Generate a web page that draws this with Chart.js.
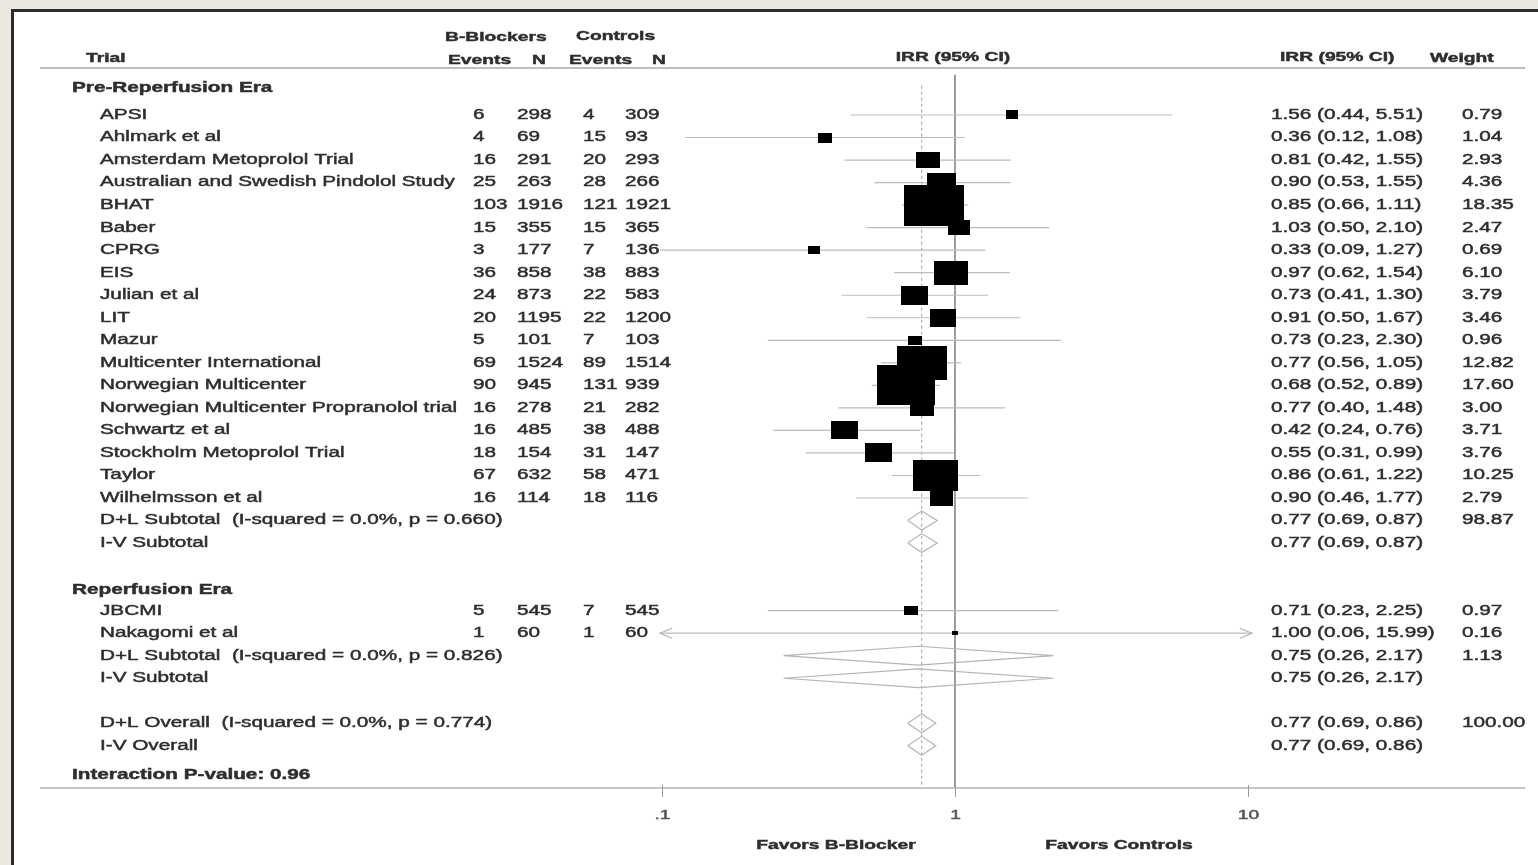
<!DOCTYPE html>
<html>
<head>
<meta charset="utf-8">
<title>Beta-blockers and mortality – forest plot</title>
<script src="https://cdn.jsdelivr.net/npm/chart.js@4.4.1/dist/chart.umd.min.js"></script>
<style>
  html, body { margin: 0; padding: 0; background: #ebe8df; }
  #wrap { width: 1538px; height: 865px; }
</style>
</head>
<body>
<div id="wrap"><canvas id="forest" width="1538" height="865"></canvas></div>
<script>
// ---- Study-level data ----
const preTrials = ['APSI', 'Ahlmark et al', 'Amsterdam Metoprolol Trial', 'Australian and Swedish Pindolol Study',
  'BHAT', 'Baber', 'CPRG', 'EIS', 'Julian et al', 'LIT', 'Mazur', 'Multicenter International',
  'Norwegian Multicenter', 'Norwegian Multicenter Propranolol trial', 'Schwartz et al',
  'Stockholm Metoprolol Trial', 'Taylor', 'Wilhelmsson et al'];
const preBbEvents  = [6, 4, 16, 25, 103, 15, 3, 36, 24, 20, 5, 69, 90, 16, 16, 18, 67, 16];
const preBbN       = [298, 69, 291, 263, 1916, 355, 177, 858, 873, 1195, 101, 1524, 945, 278, 485, 154, 632, 114];
const preCtlEvents = [4, 15, 20, 28, 121, 15, 7, 38, 22, 22, 7, 89, 131, 21, 38, 31, 58, 18];
const preCtlN      = [309, 93, 293, 266, 1921, 365, 136, 883, 583, 1200, 103, 1514, 939, 282, 488, 147, 471, 116];
const preIrr   = [1.56, 0.36, 0.81, 0.90, 0.85, 1.03, 0.33, 0.97, 0.73, 0.91, 0.73, 0.77, 0.68, 0.77, 0.42, 0.55, 0.86, 0.90];
const preLo    = [0.44, 0.12, 0.42, 0.53, 0.66, 0.50, 0.09, 0.62, 0.41, 0.50, 0.23, 0.56, 0.52, 0.40, 0.24, 0.31, 0.61, 0.46];
const preHi    = [5.51, 1.08, 1.55, 1.55, 1.11, 2.10, 1.27, 1.54, 1.30, 1.67, 2.30, 1.05, 0.89, 1.48, 0.76, 0.99, 1.22, 1.77];
const preWeight = [0.79, 1.04, 2.93, 4.36, 18.35, 2.47, 0.69, 6.10, 3.79, 3.46, 0.96, 12.82, 17.60, 3.00, 3.71, 3.76, 10.25, 2.79];

const repTrials = ['JBCMI', 'Nakagomi et al'];
const repBbEvents  = [5, 1];
const repBbN       = [545, 60];
const repCtlEvents = [7, 1];
const repCtlN      = [545, 60];
const repIrr    = [0.71, 1.00];
const repLo     = [0.23, 0.06];
const repHi     = [2.25, 15.99];
const repWeight = [0.97, 0.16];

// ---- Pooled estimates (pre subtotal D+L, I-V; reperfusion D+L, I-V; overall D+L, I-V) ----
const poolLabels = ['D+L Subtotal  (I-squared = 0.0%, p = 0.660)', 'I-V Subtotal',
  'D+L Subtotal  (I-squared = 0.0%, p = 0.826)', 'I-V Subtotal',
  'D+L Overall  (I-squared = 0.0%, p = 0.774)', 'I-V Overall'];
const poolIrr    = [0.77, 0.77, 0.75, 0.75, 0.77, 0.77];
const poolLo     = [0.69, 0.69, 0.26, 0.26, 0.69, 0.69];
const poolHi     = [0.87, 0.87, 2.17, 2.17, 0.86, 0.86];
const poolWeight = [98.87, null, 1.13, null, 100.00, null];

const groupTitles = ['Pre-Reperfusion Era', 'Reperfusion Era'];
const interactionText = 'Interaction P-value: 0.96';
const xTicks = [0.1, 1, 10];
const xTickLabels = ['.1', '1', '10'];

// ---- Row layout (row units on the vertical scale) ----
const preRows  = preTrials.map((_, i) => 1 + i);
const repRows  = repTrials.map((_, i) => 23 + i);
const poolRows = [19, 20, 25, 26, 28, 29];
const groupRows = [-0.2, 22.1];
const headRow = -1.53, interactionRow = 30.3, axisRow = 30.87;

const allIrr = preIrr.concat(repIrr), allLo = preLo.concat(repLo), allHi = preHi.concat(repHi);
const allW = preWeight.concat(repWeight), allRows = preRows.concat(repRows);

// ---- Drawing helpers ----
const SX = 1.48;
const FONT = '"Liberation Sans", Arial, sans-serif';
function text(ctx, s, x, y, opt = {}) {
  ctx.save();
  ctx.font = (opt.bold ? 'bold ' : '') + (opt.size || 14) + 'px ' + FONT;
  ctx.fillStyle = opt.color || '#2e2e2e';
  ctx.strokeStyle = opt.color || '#2e2e2e';
  ctx.lineWidth = 0.45;
  ctx.textBaseline = 'middle';
  ctx.textAlign = opt.align || 'left';
  ctx.translate(x, y);
  ctx.scale(SX, 1);
  ctx.fillText(s, 0, 0);
  ctx.strokeText(s, 0, 0);
  ctx.restore();
}
function box(w) {
  const c = document.createElement('canvas');
  c.width = Math.max(3, Math.round(13.9 * Math.sqrt(w)));
  c.height = Math.max(3, Math.round(9.6 * Math.sqrt(w)));
  const g = c.getContext('2d');
  g.fillStyle = '#000';
  g.fillRect(0, 0, c.width, c.height);
  return c;
}

// ---- Datasets ----
const ciData = [];
allRows.forEach((r, i) => {
  ciData.push({ x: allLo[i], y: r }, { x: allHi[i], y: r }, { x: allHi[i], y: null });
});
const boxes = allW.map(box);
const pointData = allRows.map((r, i) => ({ x: allIrr[i], y: r }));

const DH = 0.42;
const diamondSets = poolRows.map((r, i) => ({
  type: 'scatter', showLine: true, order: 1,
  data: [{ x: poolLo[i], y: r }, { x: poolIrr[i], y: r - DH }, { x: poolHi[i], y: r },
         { x: poolIrr[i], y: r + DH }, { x: poolLo[i], y: r }],
  borderColor: '#b4b4b4', borderWidth: 1.2, pointRadius: 0, fill: false, tension: 0
}));

const datasets = [
  { type: 'scatter', order: 0, data: pointData, pointStyle: ctx => boxes[ctx.dataIndex], pointRadius: 3 },
  ...diamondSets,
  { type: 'scatter', showLine: true, order: 2, data: ciData, borderColor: '#bdbdbd', borderWidth: 1.2,
    pointRadius: 0, spanGaps: false },
  { type: 'scatter', showLine: true, order: 3, data: [{ x: 1, y: -0.78 }, { x: 1, y: axisRow }],
    borderColor: '#8f8f8f', borderWidth: 1, pointRadius: 0 },
  { type: 'scatter', showLine: true, order: 3, data: [{ x: poolIrr[4], y: -0.3 }, { x: poolIrr[4], y: axisRow }],
    borderColor: '#a0a0a0', borderWidth: 1, borderDash: [3, 3], pointRadius: 0 }
];

// ---- Table, frame and axis drawn around the plot ----
const tablePlugin = {
  id: 'forestTable',
  beforeDraw(chart) {
    const ctx = chart.ctx;
    const W = chart.width, H = chart.height;
    ctx.save();
    ctx.fillStyle = '#ebe8df';
    ctx.fillRect(0, 0, W, H);
    ctx.fillStyle = '#ffffff';
    ctx.fillRect(14, 12, W - 14, H - 12);
    ctx.fillStyle = '#2c2c2c';
    ctx.fillRect(11, 9, W - 11, 3);
    ctx.fillRect(11, 9, 3, H - 9);
    ctx.restore();
  },
  afterDraw(chart) {
    const ctx = chart.ctx;
    const xs = chart.scales.x, ys = chart.scales.y;
    const Y = r => ys.getPixelForValue(r);

    // header rule and axis rule
    ctx.save();
    ctx.strokeStyle = '#a9a9a9'; ctx.lineWidth = 1.5;
    ctx.beginPath(); ctx.moveTo(40, 68); ctx.lineTo(1525, 68); ctx.stroke();
    const ay = Y(axisRow);
    ctx.strokeStyle = '#c6c6c6'; ctx.lineWidth = 2;
    ctx.beginPath(); ctx.moveTo(40, ay); ctx.lineTo(1525, ay); ctx.stroke();
    ctx.strokeStyle = '#9a9a9a'; ctx.lineWidth = 1;
    xTicks.forEach((t, i) => {
      const px = Math.round(xs.getPixelForValue(t)) + 0.5;
      ctx.beginPath(); ctx.moveTo(px, ay - 3); ctx.lineTo(px, ay + 9); ctx.stroke();
      text(ctx, xTickLabels[i], px, ay + 27, { size: 13, color: '#555', align: 'center' });
    });

    // arrows where a confidence interval runs well past the axis
    const ca = chart.chartArea;
    ctx.strokeStyle = '#b5b5b5'; ctx.lineWidth = 1.2;
    allRows.forEach((r, i) => {
      const y = Y(r);
      if (allLo[i] < xs.min * 0.8) {
        ctx.beginPath(); ctx.moveTo(ca.left + 12, y - 5); ctx.lineTo(ca.left, y); ctx.lineTo(ca.left + 12, y + 5); ctx.stroke();
      }
      if (allHi[i] > xs.max * 1.2) {
        ctx.beginPath(); ctx.moveTo(ca.right - 12, y - 5); ctx.lineTo(ca.right, y); ctx.lineTo(ca.right - 12, y + 5); ctx.stroke();
      }
    });
    ctx.restore();

    // column headers
    const hb = { bold: true, size: 13 };
    text(ctx, 'Trial', 86, Y(headRow), hb);
    text(ctx, 'B-Blockers', 445, 37, hb);
    text(ctx, 'Events', 448, 60, hb);
    text(ctx, 'N', 532, 60, hb);
    text(ctx, 'Controls', 576, 36, hb);
    text(ctx, 'Events', 569, 60, hb);
    text(ctx, 'N', 652, 60, hb);
    text(ctx, 'IRR (95% CI)', xs.getPixelForValue(1) - 2, 57, Object.assign({ align: 'center' }, hb));
    text(ctx, 'IRR (95% CI)', 1280, 57, hb);
    text(ctx, 'Weight', 1430, 58, hb);

    // group titles
    groupTitles.forEach((g, i) => text(ctx, g, 72, Y(groupRows[i]), { bold: true }));

    const fmt = v => v.toFixed(2);
    const row = (name, be, bn, ce, cn, irr, lo, hi, w, r) => {
      const y = Y(r);
      text(ctx, name, 100, y);
      if (be !== null) {
        text(ctx, String(be), 473, y);
        text(ctx, String(bn), 517, y);
        text(ctx, String(ce), 583, y);
        text(ctx, String(cn), 625, y);
      }
      text(ctx, fmt(irr) + ' (' + fmt(lo) + ', ' + fmt(hi) + ')', 1271, y);
      if (w !== null) text(ctx, fmt(w), 1462, y);
    };
    preTrials.forEach((t, i) => row(t, preBbEvents[i], preBbN[i], preCtlEvents[i], preCtlN[i],
      preIrr[i], preLo[i], preHi[i], preWeight[i], preRows[i]));
    repTrials.forEach((t, i) => row(t, repBbEvents[i], repBbN[i], repCtlEvents[i], repCtlN[i],
      repIrr[i], repLo[i], repHi[i], repWeight[i], repRows[i]));
    poolLabels.forEach((t, i) => row(t, null, null, null, null,
      poolIrr[i], poolLo[i], poolHi[i], poolWeight[i], poolRows[i]));

    text(ctx, interactionText, 72, Y(interactionRow), { bold: true });

    text(ctx, 'Favors B-Blocker', 836, 845, { bold: true, size: 13, align: 'center' });
    text(ctx, 'Favors Controls', 1119, 845, { bold: true, size: 13, align: 'center' });
  }
};

// ---- Scales: log IRR horizontally, row index vertically ----
const X_MIN = 0.0985, X_MAX = 10.32, Y_MIN = -2, Y_MAX = 31;
new Chart(document.getElementById('forest'), {
  type: 'scatter',
  data: { datasets },
  options: {
    responsive: false,
    animation: false,
    events: [],
    devicePixelRatio: 1,
    layout: { padding: { left: 660, right: 1538 - 1252, top: 47.4, bottom: 865 - 790.9 } },
    plugins: { legend: { display: false }, tooltip: { enabled: false } },
    scales: {
      x: { type: 'logarithmic', min: X_MIN, max: X_MAX, bounds: 'data', display: false },
      y: { type: 'linear', min: Y_MIN, max: Y_MAX, reverse: true, display: false }
    }
  },
  plugins: [tablePlugin]
});
</script>
</body>
</html>
